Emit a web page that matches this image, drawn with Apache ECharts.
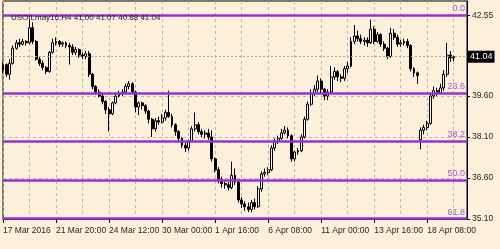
<!DOCTYPE html>
<html>
<head>
<meta charset="utf-8">
<script src="https://cdn.jsdelivr.net/npm/echarts@6/dist/echarts.min.js"></script>
<style>
  html, body { margin: 0; padding: 0; background: #fdf0db; }
  #chart { width: 500px; height: 249px; }
</style>
</head>
<body>
<div id="chart"></div>
<script>
// tick labels on the time axis, one every 16 bars (H4)
const timeLabels = ["17 Mar 2016", "21 Mar 20:00", "24 Mar 12:00", "30 Mar 00:00", "1 Apr 16:00",
  "6 Apr 08:00", "11 Apr 00:00", "13 Apr 16:00", "18 Apr 08:00"];
const priceLabels = [35.10, 36.60, 38.10, 39.60, 42.55];

// OHLC of each H4 bar
const openPrices = [
  40.55, 40.75, 40.40, 40.80, 41.35, 41.55, 41.50, 41.60, 41.55, 42.10,
  41.60, 40.95, 40.80, 40.65, 40.50, 41.20, 41.55, 41.60, 41.50, 41.55,
  41.45, 41.40, 41.20, 41.30, 41.10, 41.05, 41.15, 40.40, 39.95, 39.75,
  39.60, 39.40, 39.10, 38.95, 39.35, 39.60, 39.70, 39.75, 39.95, 40.05,
  39.75, 39.20, 39.35, 39.25, 39.05, 38.75, 38.40, 38.70, 38.65, 38.80,
  39.00, 38.85, 38.55, 38.30, 38.05, 37.80, 37.70, 37.95, 38.40, 38.55,
  38.30, 38.20, 38.25, 38.10, 37.30, 36.90, 36.55, 36.40, 36.35, 36.25,
  36.70, 36.45, 35.80, 35.65, 35.55, 35.45, 35.70, 35.55, 36.20, 36.75,
  36.80, 36.90, 37.70, 37.95, 38.05, 38.25, 38.35, 38.15, 37.30, 37.55,
  37.60, 38.10, 38.75, 39.30, 39.70, 39.85, 40.15, 39.85, 39.60, 39.75,
  40.30, 40.50, 40.30, 40.25, 40.60, 40.70, 41.60, 41.80, 41.70, 41.60,
  41.65, 41.55, 42.05, 41.60, 41.85, 41.50, 41.35, 41.05, 41.90, 41.75,
  41.50, 41.55, 41.60, 41.45, 40.60, 40.45, 38.00, 38.35, 38.45, 38.60,
  39.60, 39.80, 39.70, 39.90, 40.40, 41.10, 41.00
];
const closePrices = [
  40.75, 40.40, 40.80, 41.35, 41.55, 41.50, 41.60, 41.55, 42.10, 41.60,
  40.95, 40.80, 40.65, 40.50, 41.20, 41.55, 41.60, 41.50, 41.55, 41.45,
  41.40, 41.20, 41.30, 41.10, 41.05, 41.15, 40.40, 39.95, 39.75, 39.60,
  39.40, 39.10, 38.95, 39.35, 39.60, 39.70, 39.75, 39.95, 40.05, 39.75,
  39.20, 39.35, 39.25, 39.05, 38.75, 38.40, 38.70, 38.65, 38.80, 39.00,
  38.85, 38.55, 38.30, 38.05, 37.80, 37.70, 37.95, 38.40, 38.55, 38.30,
  38.20, 38.25, 38.10, 37.30, 36.90, 36.55, 36.40, 36.35, 36.25, 36.70,
  36.45, 35.80, 35.65, 35.55, 35.45, 35.70, 35.55, 36.20, 36.75, 36.80,
  36.90, 37.70, 37.95, 38.05, 38.25, 38.35, 38.15, 37.30, 37.55, 37.60,
  38.10, 38.75, 39.30, 39.70, 39.85, 40.15, 39.85, 39.60, 39.75, 40.30,
  40.50, 40.30, 40.25, 40.60, 40.70, 41.60, 41.80, 41.70, 41.60, 41.65,
  41.55, 42.05, 41.60, 41.85, 41.50, 41.35, 41.05, 41.90, 41.75, 41.50,
  41.55, 41.60, 41.45, 40.60, 40.45, 40.35, 38.35, 38.45, 38.60, 39.60,
  39.80, 39.70, 39.90, 40.40, 41.10, 41.00, 41.04
];
const lowPrices = [
  40.45, 40.30, 40.20, 40.75, 41.30, 41.40, 41.45, 41.45, 41.50, 41.50,
  40.90, 40.70, 40.55, 40.40, 40.45, 41.15, 41.45, 41.40, 41.40, 41.35,
  40.75, 41.10, 41.10, 41.00, 40.95, 40.95, 40.30, 39.85, 39.65, 39.55,
  39.30, 38.95, 38.30, 38.90, 39.30, 39.55, 39.60, 39.70, 39.85, 39.70,
  39.00, 38.90, 39.10, 38.95, 38.60, 38.10, 38.30, 38.55, 38.60, 38.70,
  38.80, 38.45, 38.15, 37.90, 37.70, 37.55, 37.60, 37.90, 38.30, 38.20,
  38.10, 38.05, 38.00, 37.20, 36.80, 36.40, 36.25, 36.20, 36.15, 36.20,
  36.35, 35.70, 35.50, 35.40, 35.35, 35.35, 35.45, 35.50, 36.10, 36.65,
  36.70, 36.85, 37.60, 37.85, 38.00, 38.20, 38.05, 37.20, 37.20, 37.45,
  37.55, 38.05, 38.70, 39.25, 39.60, 39.75, 39.70, 39.45, 39.45, 39.70,
  40.20, 40.15, 40.10, 40.15, 40.45, 40.65, 41.50, 41.60, 41.50, 41.45,
  41.40, 41.50, 41.50, 41.55, 41.40, 41.25, 40.95, 41.00, 41.65, 41.40,
  41.40, 41.45, 41.35, 40.50, 40.30, 40.05, 37.65, 38.20, 38.35, 38.55,
  39.50, 39.60, 39.65, 39.80, 40.30, 40.85, 40.88
];
const highPrices = [
  40.85, 40.80, 40.95, 41.45, 41.65, 41.70, 41.70, 41.65, 42.40, 42.30,
  41.65, 41.05, 40.90, 40.70, 41.25, 41.70, 41.75, 41.65, 41.60, 41.60,
  41.55, 41.50, 41.40, 41.35, 41.20, 41.25, 41.25, 40.45, 40.00, 39.85,
  39.70, 39.45, 39.20, 39.40, 39.70, 39.80, 39.85, 40.05, 40.15, 40.10,
  39.80, 39.40, 39.40, 39.30, 39.10, 38.80, 38.80, 38.85, 38.95, 39.10,
  39.80, 38.95, 38.60, 38.35, 38.10, 37.90, 38.00, 38.50, 39.00, 38.65,
  38.40, 38.35, 38.40, 38.35, 37.35, 37.00, 36.65, 36.50, 36.45, 37.20,
  36.95, 36.50, 35.90, 35.75, 35.70, 35.80, 35.85, 36.30, 36.85, 36.95,
  37.00, 37.80, 38.05, 38.15, 38.40, 38.50, 38.45, 38.20, 37.60, 37.70,
  38.20, 38.85, 39.40, 39.85, 40.00, 40.35, 40.25, 39.90, 39.85, 40.70,
  40.65, 40.55, 40.40, 40.70, 40.85, 41.75, 42.20, 42.00, 41.85, 41.75,
  41.75, 42.40, 42.15, 41.95, 41.90, 41.60, 41.40, 42.10, 42.05, 41.85,
  41.65, 41.70, 41.70, 41.50, 40.65, 40.50, 38.45, 38.55, 38.70, 39.70,
  39.95, 39.90, 40.05, 40.55, 41.55, 41.25, 41.07
];

// fibonacci retracement levels
const fibLevels = ["0.0", "23.6", "38.2", "50.0", "61.8"];
const fibPrices = [42.55, 39.71, 37.95, 36.53, 35.11];
const lastPrice = 41.04;

const barsOnAxis = 141; // chart shift leaves a few empty slots on the right
const font = "'Liberation Sans', Arial, sans-serif";

let categories = [];
for (let i = 0; i < barsOnAxis; i++) categories.push(String(i));

let candles = openPrices.map((o, i) => [o, closePrices[i], lowPrices[i], highPrices[i]]);

let markData = fibPrices.map((p, i) => ({
  yAxis: p,
  label: { formatter: fibLevels[i] },
}));
markData.push({
  yAxis: lastPrice,
  lineStyle: { color: "#a8a8a8", width: 1, type: [2, 2] },
  label: {
    position: "end",
    distance: 1,
    formatter: lastPrice.toFixed(2),
    color: "#ffffff",
    backgroundColor: "#000000",
    padding: [2, 2, 1, 2],
    fontSize: 9,
    fontFamily: font,
  },
});

let chart = echarts.init(document.getElementById("chart"));
let option = {
  backgroundColor: "#fdf0db",
  animation: false,
  title: {
    text: "USOILmay16,H4 41.00 41.07 40.88 41.04",
    left: 6,
    top: 9,
    textStyle: { fontSize: 8, fontWeight: "normal", color: "#1e1e1e", fontFamily: font },
  },
  grid: {
    left: 3,
    right: 33,
    top: 1,
    bottom: 30,
    show: true,
    borderColor: "#000",
    borderWidth: 1,
  },
  xAxis: {
    type: "category",
    data: categories,
    boundaryGap: false,
    axisLine: { lineStyle: { color: "#000" } },
    axisTick: { interval: 15, length: 4, lineStyle: { color: "#000" } },
    axisLabel: {
      interval: 15,
      showMinLabel: true,
      align: "left",
      margin: 7,
      fontSize: 8.5,
      fontFamily: font,
      color: "#1e1e1e",
      formatter: (v, i) => timeLabels[i / 16] || "",
    },
    splitLine: {
      show: true,
      interval: 7,
      lineStyle: { color: "#bdb5a6", type: [3, 3], width: 1 },
    },
  },
  yAxis: {
    type: "value",
    position: "right",
    min: 35.1,
    max: 43.08,
    interval: 1.5,
    axisLine: { show: true, lineStyle: { color: "#000" } },
    axisTick: { show: true, length: 3, customValues: priceLabels, lineStyle: { color: "#000" } },
    axisLabel: {
      customValues: priceLabels,
      margin: 5,
      fontSize: 8.5,
      fontFamily: font,
      color: "#1e1e1e",
      formatter: (v) => v.toFixed(2),
    },
    splitLine: {
      show: true,
      lineStyle: { color: "#bdb5a6", type: [3, 3], width: 1 },
    },
  },
  series: [
    {
      type: "candlestick",
      data: candles,
      barWidth: 2.4,
      itemStyle: {
        color: "#ffffff",
        color0: "#000000",
        borderColor: "#000000",
        borderColor0: "#000000",
        borderWidth: 1,
      },
      markLine: {
        silent: true,
        symbol: "none",
        lineStyle: { color: "#9b30d0", width: 2.5, type: "solid" },
        label: {
          position: "insideEndTop",
          distance: [2, 2],
          color: "#9a5ad6",
          fontSize: 9,
          fontFamily: font,
        },
        data: markData,
      },
    },
  ],
};
chart.setOption(option);
</script>
</body>
</html>
